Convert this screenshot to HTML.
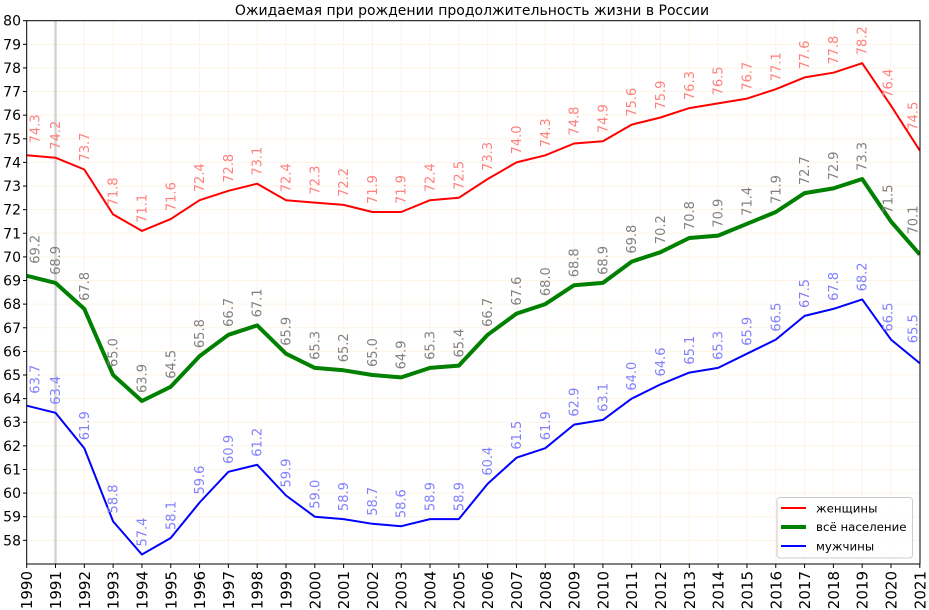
<!DOCTYPE html>
<html><head><meta charset="utf-8"><style>body{margin:0;background:#fff}svg{display:block;font-family:"DejaVu Sans","Liberation Sans",sans-serif}</style></head>
<body>
<svg id="s" width="929" height="610" xmlns="http://www.w3.org/2000/svg">
<defs><clipPath id="c"><rect x="26.7" y="20.7" width="893.3" height="543.3"/></clipPath></defs>
<text x="472" y="15" text-anchor="middle" font-size="14">Ожидаемая при рождении продолжительность жизни в России</text>
<g id="grid"></g>
<line x1="55.5" y1="20.7" x2="55.5" y2="564" stroke="#d3d3d3" stroke-width="2.5"/>
<g id="series" clip-path="url(#c)"></g>
<g id="labels"></g>
<rect x="26.7" y="20.7" width="893.3" height="543.3" fill="none" stroke="#000" stroke-width="1"/>
<g id="ticks"></g>
<g>
<rect x="777" y="497.5" width="135.5" height="60.5" rx="3" fill="#fff" fill-opacity="0.8" stroke="#ccc"/>
<line x1="781" y1="508" x2="806" y2="508" stroke="red" stroke-width="2"/>
<text x="816" y="512.5" font-size="11.8">женщины</text>
<line x1="781" y1="527" x2="806" y2="527" stroke="green" stroke-width="4"/>
<text x="816" y="531" font-size="11.8">всё население</text>
<line x1="781" y1="546" x2="806" y2="546" stroke="blue" stroke-width="2"/>
<text x="816" y="550.5" font-size="11.8">мужчины</text>
</g>
</svg>
<script>
var W=[74.3,74.2,73.7,71.8,71.1,71.6,72.4,72.8,73.1,72.4,72.3,72.2,71.9,71.9,72.4,72.5,73.3,74.0,74.3,74.8,74.9,75.6,75.9,76.3,76.5,76.7,77.1,77.6,77.8,78.2,76.4,74.5];
var T=[69.2,68.9,67.8,65.0,63.9,64.5,65.8,66.7,67.1,65.9,65.3,65.2,65.0,64.9,65.3,65.4,66.7,67.6,68.0,68.8,68.9,69.8,70.2,70.8,70.9,71.4,71.9,72.7,72.9,73.3,71.5,70.1];
var M=[63.7,63.4,61.9,58.8,57.4,58.1,59.6,60.9,61.2,59.9,59.0,58.9,58.7,58.6,58.9,58.9,60.4,61.5,61.9,62.9,63.1,64.0,64.6,65.1,65.3,65.9,66.5,67.5,67.8,68.2,66.5,65.5];
function X(i){return 26.7+i*28.81}function Y(v){return 20.7+(80-v)*23.62}
var g='',t='',s='',l='';
for(var v=58;v<=79;v++)g+='<line x1="26.7" x2="920" y1="'+Y(v)+'" y2="'+Y(v)+'" stroke="#fdf3e4" stroke-width="1"/>';
for(var i=1;i<31;i++)g+='<line y1="20.7" y2="564" x1="'+X(i)+'" x2="'+X(i)+'" stroke="#fdf3e4" stroke-width="1"/>';
for(var v=58;v<=80;v++){t+='<line x1="23" x2="26.7" y1="'+Y(v)+'" y2="'+Y(v)+'" stroke="#000"/><text x="21" y="'+(Y(v)+5)+'" text-anchor="end" font-size="14">'+v+'</text>';}
for(var i=0;i<32;i++){var x=X(i);t+='<line x1="'+x+'" x2="'+x+'" y1="564" y2="568" stroke="#000"/><text transform="translate('+(x+5.5)+',571) rotate(-90)" text-anchor="end" font-size="15">'+(1990+i)+'</text>';}
var dx={0:8.5,30:-3,31:-7},dy={0:-4,31:-12};
function ser(d,c,w,lc){var p=d.map(function(v,i){return X(i).toFixed(1)+','+Y(v).toFixed(1)}).join(' ');
s+='<polyline points="'+p+'" fill="none" stroke="'+c+'" stroke-width="'+w+'" stroke-linejoin="round"/>';
d.forEach(function(v,i){l+='<text transform="translate('+(X(i)+4.5+(dx[i]||0))+','+(Y(v)-8+(dy[i]||0))+') rotate(-90)" font-size="13" fill="'+lc+'">'+v.toFixed(1)+'</text>';});}
ser(W,'red',2,'#ff8080');ser(T,'green',4,'#808080');ser(M,'blue',2,'#8080ff');
document.getElementById('grid').innerHTML=g;document.getElementById('ticks').innerHTML=t;document.getElementById('series').innerHTML=s;document.getElementById('labels').innerHTML=l;
</script>
</body></html>
